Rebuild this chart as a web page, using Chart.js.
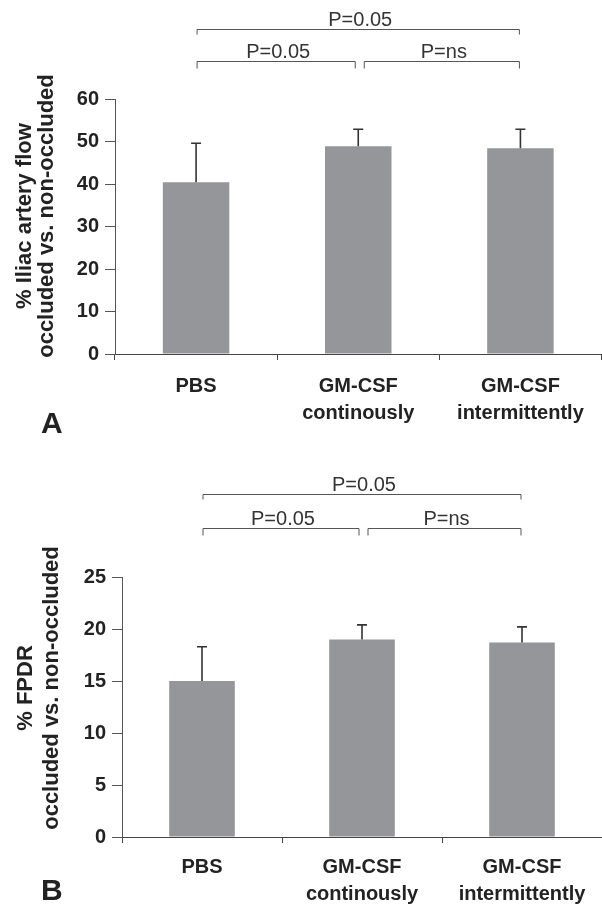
<!DOCTYPE html>
<html>
<head>
<meta charset="utf-8">
<script src="https://cdn.jsdelivr.net/npm/chart.js@4/dist/chart.umd.min.js"></script>
<style>
  body { margin: 0; background: #fff; }
  .panel { position: absolute; left: 0; }
</style>
</head>
<body>
<canvas id="flow" class="panel" style="top:0" width="602" height="455"></canvas>
<canvas id="fpdr" class="panel" style="top:455px" width="602" height="453"></canvas>
<script>
// groups on the x axis (multi-line labels)
const groups = [['PBS'], ['GM-CSF', 'continously'], ['GM-CSF', 'intermittently']];

// panel A: % iliac artery flow
const flowMean = [40.4, 48.9, 48.4];
const flowSd = [9.2, 4.0, 4.5];
const flowTicks = [0, 10, 20, 30, 40, 50, 60];

// panel B: % FPDR
const fpdrMean = [15.0, 19.0, 18.7];
const fpdrSd = [3.3, 1.4, 1.5];
const fpdrTicks = [0, 5, 10, 15, 20, 25];

// significance brackets (same in both panels)
const pairFrom = [0, 0, 1];
const pairTo = [2, 1, 2];
const pairText = ['P=0.05', 'P=0.05', 'P=ns'];
const pairLevel = [0, 1, 1];

const FONT = 'Liberation Sans, Arial, sans-serif';
Chart.defaults.font.family = FONT;

const extras = {
  id: 'extras',
  afterDatasetsDraw(chart, args, o) {
    const ctx = chart.ctx;
    const x = chart.scales.x, y = chart.scales.y;
    const vals = chart.data.datasets[0].data;
    ctx.save();
    // error bars (upper only)
    ctx.strokeStyle = '#333';
    ctx.lineWidth = 1.6;
    chart.getDatasetMeta(0).data.forEach((bar, i) => {
      const top = y.getPixelForValue(vals[i] + o.sd[i]);
      ctx.beginPath();
      ctx.moveTo(bar.x, bar.y);
      ctx.lineTo(bar.x, top);
      ctx.moveTo(bar.x - 5, top);
      ctx.lineTo(bar.x + 5, top);
      ctx.stroke();
    });
    // brackets
    const n = vals.length;
    ctx.strokeStyle = '#555';
    ctx.lineWidth = 1;
    ctx.fillStyle = '#333';
    ctx.font = '20px ' + FONT;
    ctx.textAlign = 'center';
    ctx.textBaseline = 'alphabetic';
    pairFrom.forEach((f, k) => {
      const t = pairTo[k];
      const x1 = x.getPixelForValue(f) + (f > 0 ? 6 : 1);
      const x2 = x.getPixelForValue(t) - (t < n - 1 ? 3 : 1);
      const by = o.bracketY[pairLevel[k]] + 0.5;
      const drop = pairLevel[k] === 0 ? 5 : 7;
      ctx.beginPath();
      ctx.moveTo(x1, by + drop);
      ctx.lineTo(x1, by);
      ctx.lineTo(x2, by);
      ctx.lineTo(x2, by + drop);
      ctx.stroke();
      ctx.fillText(pairText[k], (x1 + x2) / 2 + 2, by - 4);
    });
    // y axis title, two rotated lines
    ctx.fillStyle = '#222';
    ctx.font = 'bold 22px ' + FONT;
    o.title.forEach((line, i) => {
      ctx.save();
      ctx.translate(o.titleX[i], o.titleY);
      ctx.rotate(-Math.PI / 2);
      ctx.fillText(line, 0, 0);
      ctx.restore();
    });
    // panel letter
    ctx.textAlign = 'left';
    ctx.font = 'bold 30px ' + FONT;
    ctx.fillText(o.letter, o.letterX, o.letterY);
    ctx.restore();
  }
};

function panel(id, mean, sd, ticks, title, letter, g) {
  const canvas = document.getElementById(id);
  const W = canvas.width, H = canvas.height;
  new Chart(canvas, {
    type: 'bar',
    data: {
      labels: groups,
      datasets: [{
        data: mean,
        backgroundColor: '#959699',
        borderWidth: 0,
        barPercentage: 0.41,
        categoryPercentage: 1
      }]
    },
    options: {
      responsive: false,
      animation: false,
      layout: { padding: { top: g.top, right: W - g.right, left: 0, bottom: 0 } },
      plugins: {
        legend: { display: false },
        tooltip: { enabled: false },
        extras: {
          sd: sd, bracketY: g.bracketY, title: title, titleX: g.titleX, titleY: g.titleY,
          letter: letter, letterX: 41, letterY: g.letterY
        }
      },
      scales: {
        x: {
          afterFit: (s) => { s.height = H - g.bottom; },
          grid: { drawOnChartArea: false, drawTicks: true, tickLength: 6, color: '#444', offset: true },
          border: { display: true, color: '#444', width: 1 },
          ticks: {
            color: '#222', maxRotation: 0, padding: g.labelPad,
            font: { size: 20, weight: 'bold', lineHeight: 1.35 }
          }
        },
        y: {
          min: ticks[0],
          max: ticks[ticks.length - 1],
          afterFit: (s) => { s.width = g.left; },
          afterBuildTicks: (s) => { s.ticks = ticks.map(v => ({ value: v })); },
          grid: { drawOnChartArea: false, drawTicks: true, tickLength: 10, color: '#555' },
          border: { display: true, color: '#555', width: 1 },
          ticks: { color: '#222', padding: 6, font: { size: 20, weight: 'bold' } }
        }
      }
    },
    plugins: [extras]
  });
}

panel('flow', flowMean, flowSd, flowTicks,
  ['% Iliac artery flow', 'occluded vs. non-occluded'], 'A',
  { left: 115, right: 601.5, top: 99, bottom: 354, labelPad: 13,
    bracketY: [29, 61], titleX: [31, 53], titleY: 216, letterY: 433 });

panel('fpdr', fpdrMean, fpdrSd, fpdrTicks,
  ['% FPDR', 'occluded vs. non-occluded'], 'B',
  { left: 122, right: 602, top: 122, bottom: 382, labelPad: 11,
    bracketY: [39, 73], titleX: [32, 58], titleY: 233, letterY: 445 });
</script>
</body>
</html>
